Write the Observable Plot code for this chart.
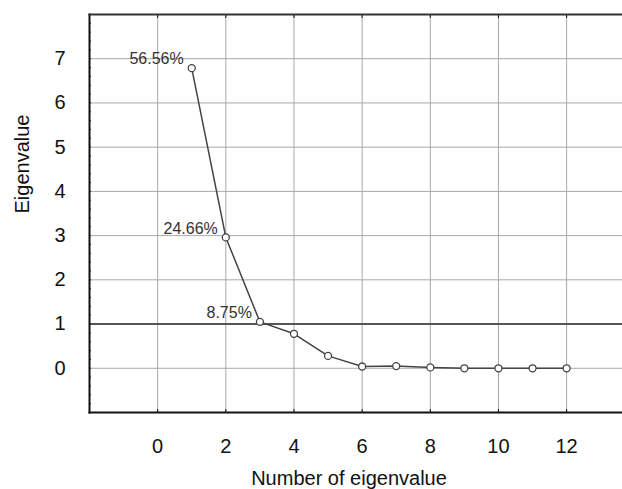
<!DOCTYPE html>
<html>
<head>
<meta charset="utf-8">
<script src="https://cdn.jsdelivr.net/npm/d3@7"></script>
<script src="https://cdn.jsdelivr.net/npm/@observablehq/plot@0.6"></script>
<style>
  html, body { margin: 0; padding: 0; background: #fff; }
  svg { font-family: "Liberation Sans", Arial, sans-serif; }
</style>
</head>
<body>
<div id="chart"></div>
<script>
const numbers = [1, 2, 3, 4, 5, 6, 7, 8, 9, 10, 11, 12];
const eigenvalues = [6.787, 2.959, 1.05, 0.78, 0.28, 0.04, 0.05, 0.02, 0.0, 0.0, 0.0, 0.0];
const pctLabels = ["56.56%", "24.66%", "8.75%"];
const xTicks = [0, 2, 4, 6, 8, 10, 12];
const yTicks = [0, 1, 2, 3, 4, 5, 6, 7];
const yMinor = d3.range(-1, 8.001, 0.2).map(v => Math.round(v * 10) / 10);
const cutoff = [1];

const data = numbers.map((n, i) => ({n, v: eigenvalues[i], label: pctLabels[i] || ""}));

const chart = Plot.plot({
  width: 622,
  height: 489,
  marginLeft: 89,
  marginRight: 0,
  marginTop: 14,
  marginBottom: 77,
  style: {fontFamily: "Liberation Sans, Arial, sans-serif", background: "#fff"},
  x: {domain: [-2, 13.64], label: null},
  y: {domain: [-1, 8], label: null},
  marks: [
    Plot.gridX(xTicks, {stroke: "#a8a8a8", strokeOpacity: 1, strokeWidth: 1}),
    Plot.gridY(yTicks, {stroke: "#a8a8a8", strokeOpacity: 1, strokeWidth: 1}),
    Plot.ruleY(cutoff, {stroke: "#555", strokeWidth: 2}),
    // minor / major inward ticks
    Plot.axisY({anchor: "left", ticks: yMinor, tickSize: -2, tickFormat: () => "", stroke: "#222", label: null}),
    Plot.axisY({anchor: "left", ticks: yTicks, tickSize: 0, tickPadding: 24, fontSize: 20, fill: "#111", label: null}),
    Plot.axisX({anchor: "bottom", ticks: xTicks, tickSize: -3, tickFormat: () => "", stroke: "#111", label: null}),
    Plot.axisX({anchor: "top", ticks: xTicks, tickSize: -3, tickFormat: () => "", stroke: "#111", label: null}),
    Plot.axisX({anchor: "bottom", ticks: xTicks, tickSize: 0, tickPadding: 26, fontSize: 20, fill: "#111", label: null}),
    Plot.frame({anchor: "left", stroke: "#111", strokeWidth: 2}),
    Plot.frame({anchor: "bottom", stroke: "#111", strokeWidth: 2}),
    Plot.frame({anchor: "top", stroke: "#333", strokeWidth: 2}),
    Plot.line(data, {x: "n", y: "v", stroke: "#444", strokeWidth: 1.5}),
    Plot.dot(data, {x: "n", y: "v", r: 3.5, stroke: "#444", strokeWidth: 1.3, fill: "#fff"}),
    Plot.text(data.filter(d => d.label), {x: "n", y: "v", text: "label", textAnchor: "end", dx: -8, dy: -9, fontSize: 16, fill: "#333"}),
    Plot.text(["Number of eigenvalue"], {frameAnchor: "bottom", lineAnchor: "middle", dy: 66, dx: -7, fontSize: 20, fill: "#111"}),
    Plot.text(["Eigenvalue"], {frameAnchor: "left", dx: -67, rotate: -90, fontSize: 20, fill: "#111"})
  ]
});
document.getElementById("chart").appendChild(chart);
</script>
</body>
</html>
